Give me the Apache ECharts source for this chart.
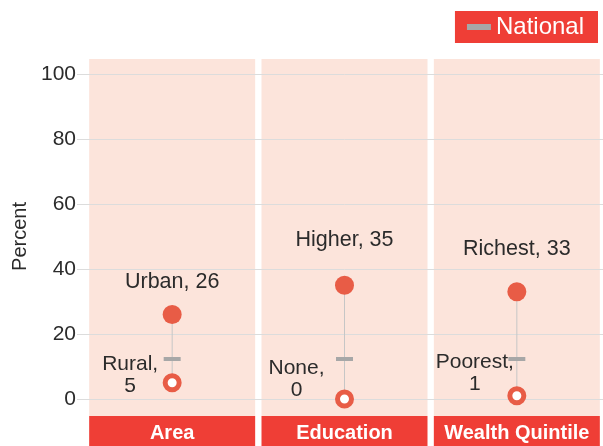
<!DOCTYPE html>
<html>
<head>
<meta charset="utf-8">
<script src="https://cdn.jsdelivr.net/npm/echarts@6/dist/echarts.min.js"></script>
<style>
  html, body { margin: 0; padding: 0; background: #fff; }
  #chart { width: 603px; height: 446px; }
</style>
</head>
<body>
<div id="chart"></div>
<script>
// data
const categories = ["Area", "Education", "Wealth Quintile"];
const highNames = ["Urban", "Higher", "Richest"];
const highValues = [26, 35, 33];
const lowNames = ["Rural", "None", "Poorest"];
const lowValues = [5, 0, 1];
const nationalValues = [12.3, 12.3, 12.3];

const font = "Liberation Sans";
const red = "#e85c46";
const textColor = "#2b2b2b";

// label placement tweaks, per group
const highLabelGap = [12, 25, 22];
const lowLabelShift = [[-42, -8], [-48, -20], [-42, -23]];

let initChart = option => {
    const chart = echarts.init(document.querySelector("#chart"), null, { renderer: "canvas" });
    chart.setOption(option);
    return chart;
};

let catAxis = (gridIndex) => ({
    type: "category", gridIndex, data: categories, show: false
});

let option = {
    animation: false,
    textStyle: { fontFamily: font },
    legend: {
        data: ["National"],
        right: 5,
        top: 11,
        backgroundColor: "#ef3e36",
        padding: [4, 14, 4, 12],
        icon: "rect",
        itemWidth: 24,
        itemHeight: 6,
        itemGap: 5,
        selectedMode: false,
        textStyle: { color: "#fff", fontSize: 24, fontFamily: font }
    },
    grid: [
        { left: 86, right: 0, top: 74, bottom: 47, outerBoundsMode: "none" },
        { left: 86, right: 0, top: 59, bottom: 30, outerBoundsMode: "none" },
        { left: 86, right: 0, top: 416, bottom: 0, outerBoundsMode: "none" }
    ],
    xAxis: [catAxis(0), catAxis(1), catAxis(2)],
    yAxis: [
        {
            type: "value", gridIndex: 0, min: 0, max: 100, interval: 20, z: 1,
            name: "Percent", nameLocation: "middle", nameGap: 55,
            nameTextStyle: { fontSize: 20, color: textColor },
            axisLine: { show: false },
            axisTick: { show: true, length: 9, lineStyle: { color: "#dcdcdc" } },
            axisLabel: { fontSize: 21, color: textColor, margin: 10 },
            splitLine: { lineStyle: { color: "#dcdcdc", width: 1 } }
        },
        { type: "value", gridIndex: 1, min: 0, max: 1, show: false },
        { type: "value", gridIndex: 2, min: 0, max: 1, show: false }
    ],
    series: [
        {
            type: "bar", xAxisIndex: 1, yAxisIndex: 1, z: 0,
            barWidth: 166, silent: true,
            itemStyle: { color: "#fce4db" },
            data: categories.map(() => 1)
        },
        {
            type: "bar", xAxisIndex: 2, yAxisIndex: 2,
            barWidth: 166, silent: true,
            itemStyle: { color: "#ef3e36" },
            label: {
                show: true, position: "inside", color: "#fff",
                fontSize: 20, fontWeight: "bold", fontFamily: font,
                offset: [0, 2],
                formatter: p => p.name
            },
            data: categories.map(() => 1)
        },
        {
            type: "custom", xAxisIndex: 0, yAxisIndex: 0, silent: true,
            renderItem: (params, api) => {
                const a = api.coord([api.value(0), api.value(1)]);
                const b = api.coord([api.value(0), api.value(2)]);
                return {
                    type: "line",
                    shape: { x1: a[0], y1: a[1], x2: b[0], y2: b[1] },
                    style: { stroke: "#c6c6c6", lineWidth: 1 }
                };
            },
            data: categories.map((c, i) => [i, lowValues[i], highValues[i]])
        },
        {
            name: "National", type: "scatter", xAxisIndex: 0, yAxisIndex: 0,
            symbol: "rect", symbolSize: [17, 4],
            itemStyle: { color: "#a7a7a7", opacity: 1 },
            data: nationalValues
        },
        {
            name: "Low", type: "scatter", xAxisIndex: 0, yAxisIndex: 0,
            symbol: "circle", symbolSize: 14,
            itemStyle: { color: "#fff", borderColor: red, borderWidth: 5, opacity: 1 },
            data: lowValues.map((v, i) => ({
                value: v,
                label: {
                    show: true, position: "inside", offset: lowLabelShift[i],
                    align: "center", verticalAlign: "middle", lineHeight: 22,
                    fontSize: 21, color: textColor,
                    formatter: lowNames[i] + ",\n" + v
                }
            }))
        },
        {
            name: "High", type: "scatter", xAxisIndex: 0, yAxisIndex: 0,
            symbol: "circle", symbolSize: 19,
            itemStyle: { color: red, opacity: 1 },
            data: highValues.map((v, i) => ({
                value: v,
                label: {
                    show: true, position: "top", distance: highLabelGap[i],
                    fontSize: 21.5, color: textColor,
                    formatter: highNames[i] + ", " + v
                }
            }))
        }
    ]
};

initChart(option);
</script>
</body>
</html>
